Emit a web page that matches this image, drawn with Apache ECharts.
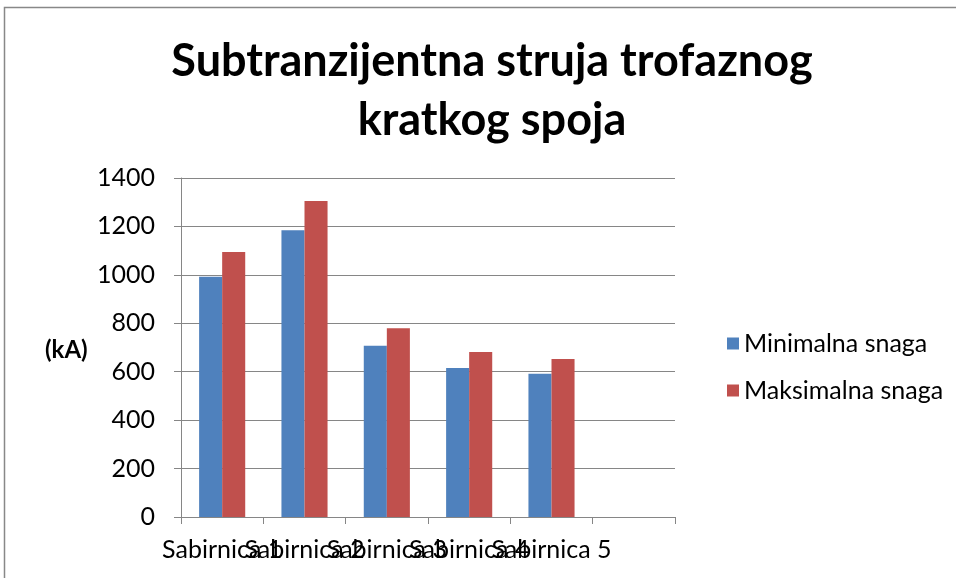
<!DOCTYPE html>
<html><head><meta charset="utf-8">
<script src="https://cdn.jsdelivr.net/npm/echarts@6/dist/echarts.min.js"></script>
<style>html,body{margin:0;padding:0;background:#fff}#c{width:956px;height:578px}</style>
</head><body><div id="c"></div>
<script>
const categories = ['Sabirnica 1','Sabirnica 2','Sabirnica 3','Sabirnica 4','Sabirnica 5',''];
const minimalna = [992, 1184, 707, 615, 592, null];
const maksimalna = [1094, 1305, 780, 681, 652, null];
const seriesNames = ['Minimalna snaga','Maksimalna snaga'];
const titleText = 'Subtranzijentna struja trofaznog\nkratkog spoja';
const unitText = '(kA)';

const FONT = 'Lato';
const chart = echarts.init(document.getElementById('c'));
chart.setOption({
  animation:false,
  backgroundColor:'#fff',
  title:{text:titleText,left:487,top:27,textAlign:'center',
    textStyle:{fontFamily:FONT,fontWeight:'bold',fontSize:45,lineHeight:59,color:'#000'}},
  legend:{orient:'vertical',left:722,top:326,itemWidth:12,itemHeight:12,itemGap:22,icon:'rect',
    textStyle:{fontFamily:FONT,fontSize:25,color:'#000'},data:seriesNames},
  grid:{left:181,right:281,top:178,bottom:61},
  graphic:[
    {type:'rect',shape:{x:4.5,y:7.5,width:1200,height:1200},style:{fill:null,stroke:'#888',lineWidth:1.5},silent:true},
    {type:'text',left:45,top:338,style:{text:unitText,fontFamily:FONT,fontWeight:'bold',fontSize:24,fill:'#000'}}
  ],
  xAxis:{type:'category',data:categories,
    axisLine:{lineStyle:{color:'#868686',width:1}},
    axisTick:{show:true,length:7,lineStyle:{color:'#868686'},interval:0},
    axisLabel:{interval:0,margin:20,fontFamily:FONT,fontSize:25,color:'#000'}},
  yAxis:{type:'value',min:0,max:1400,interval:200,
    axisLine:{show:true,lineStyle:{color:'#868686',width:1}},
    axisTick:{show:true,length:7,lineStyle:{color:'#868686'}},
    splitLine:{lineStyle:{color:'#868686',width:1}},
    axisLabel:{margin:26,fontFamily:FONT,fontSize:25,color:'#000',formatter:v=>String(v)}},
  series:[
    {name:seriesNames[0],type:'bar',data:minimalna,barGap:'0%',barCategoryGap:'44%',
      itemStyle:{color:'#4F81BD'}},
    {name:seriesNames[1],type:'bar',data:maksimalna,barGap:'0%',barCategoryGap:'44%',
      itemStyle:{color:'#C0504D'}}
  ]
});
</script></body></html>
